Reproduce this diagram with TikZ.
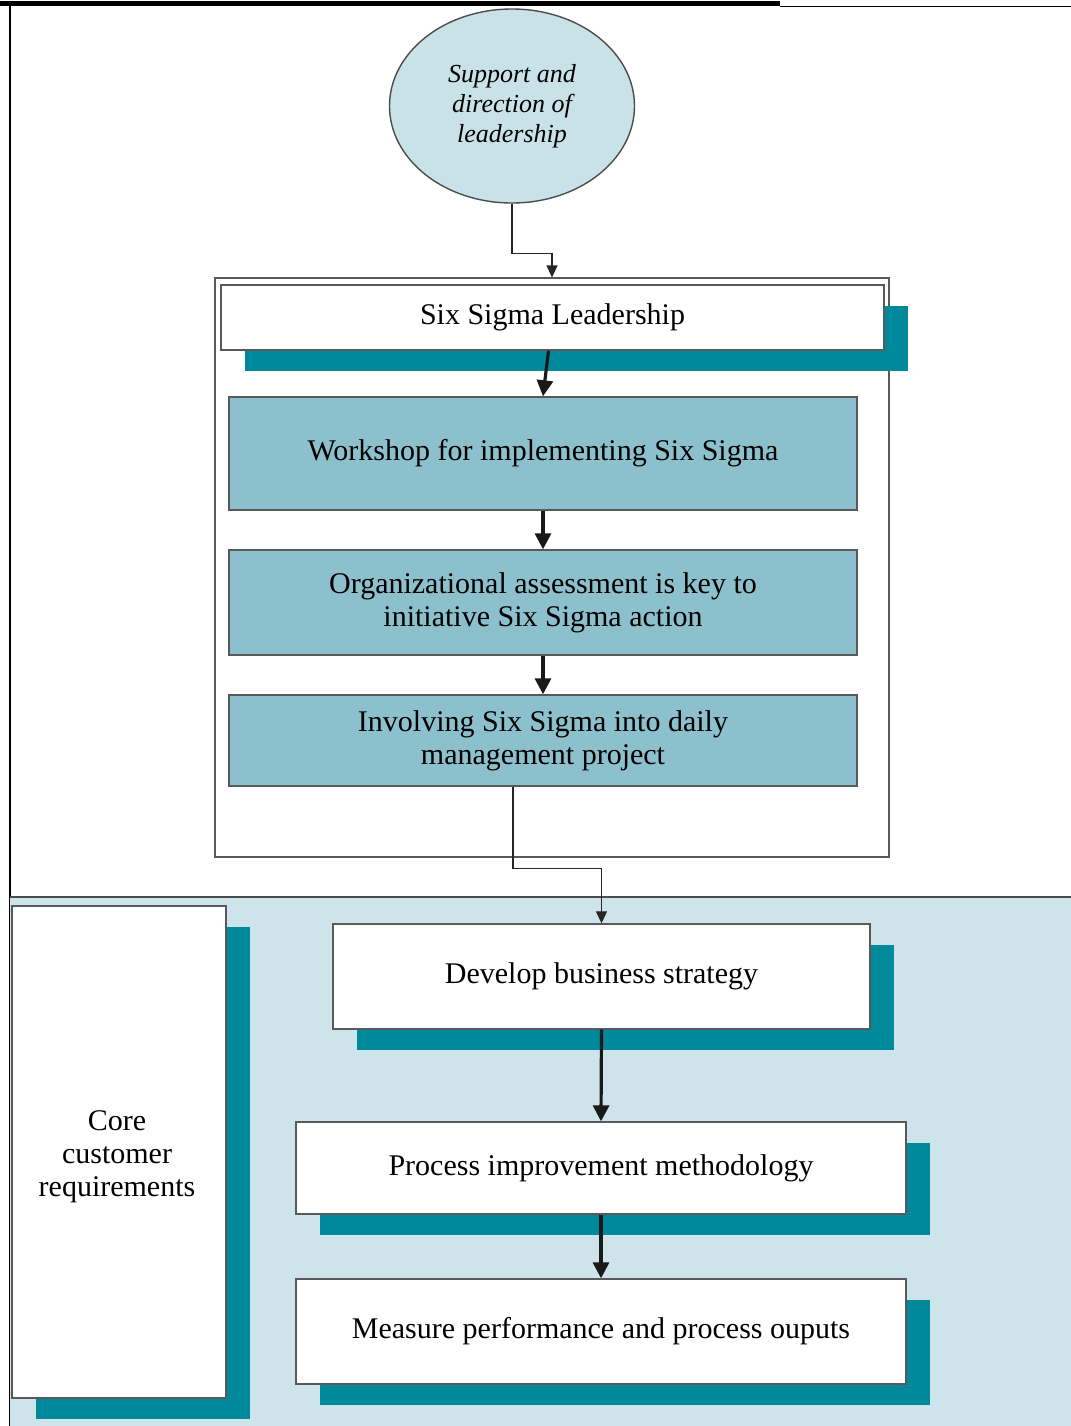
\documentclass[tikz,border=0pt]{standalone}
\usepackage{fontspec}
\setmainfont{Liberation Serif}
\usetikzlibrary{shapes.geometric,shadows,arrows.meta}
\definecolor{sigmateal}{RGB}{0,137,155}
\definecolor{paleblue}{RGB}{204,228,234}
\definecolor{midblue}{RGB}{140,192,204}
\definecolor{ovalblue}{RGB}{201,226,232}

\begin{document}
\begin{tikzpicture}[x=0.5pt,y=-0.5pt,
	box/.style={draw=black!65,line width=0.7pt,fill=white,inner sep=0pt,align=center,font=\fontsize{15}{16.5}\selectfont},
	tealshadow/.style={drop shadow={shadow xshift=12pt,shadow yshift=-10.5pt,fill=sigmateal,opacity=1}},
	bluebox/.style={box,fill=midblue},
	conn/.style={draw=black!85,line width=0.6pt,-{Triangle[length=6pt,width=5.5pt]}},
	bigarrow/.style={draw=black!90,line width=1.6pt,-{Triangle[length=8pt,width=8pt]}}]
	\useasboundingbox (0,0) rectangle (1071,1426);

	% page rules
	\draw[line width=2.5pt] (0,3) -- (780,3);
	\draw[line width=0.5pt] (780,6) -- (1071,6);
	\draw[line width=0.8pt] (10,6) -- (10,1426);

	% lower panel
	\fill[paleblue] (10,897) rectangle (1071,1426);
	\draw[black!70,line width=0.6pt] (10,897) -- (1071,897);

	\node[ellipse,draw=black!70,line width=0.7pt,fill=ovalblue,minimum width=122.5pt,minimum height=97pt,inner sep=0pt,align=center,font=\fontsize{13}{15}\selectfont\itshape] (support) at (512,106) {Support and\\direction of\\leadership};

	\node[draw=black!65,line width=0.6pt,minimum width=337pt,minimum height=289.5pt,inner sep=0pt] (frame) at (552,567.5) {};
	\node[box,tealshadow,minimum width=331.5pt,minimum height=32.5pt] (ssl) at (552.5,317.5) {Six Sigma Leadership};
	\node[bluebox,minimum width=314pt,minimum height=56.5pt] (workshop) at (543,453.5) {Workshop for implementing Six Sigma};
	\node[bluebox,minimum width=314pt,minimum height=52.5pt] (assess) at (543,602.5) {Organizational assessment is key to\\initiative Six Sigma action};
	\node[bluebox,minimum width=314pt,minimum height=45.5pt] (involve) at (543,740.5) {Involving Six Sigma into daily\\management project};

	\node[box,tealshadow,minimum width=107pt,minimum height=246pt] (core) at (119,1152) {};
	\node[align=center,font=\fontsize{15}{16.5}\selectfont] (coretext) at (117,1157) {Core\\customer\\requirements};
	\node[box,tealshadow,minimum width=268.5pt,minimum height=52.5pt] (develop) at (601.5,976.5) {Develop business strategy};
	\node[box,tealshadow,minimum width=305pt,minimum height=46pt] (process) at (601,1168) {Process improvement methodology};
	\node[box,tealshadow,minimum width=305pt,minimum height=52.5pt] (measure) at (601,1331.5) {Measure performance and process ouputs};

	\draw[conn] (support.south) -- ++(0,-25pt) -| (frame.north);
	\draw[conn] ([xshift=-15pt]involve.south) -- ++(0,-41pt) -| (develop.north);
	\foreach \a/\b in {workshop/assess, assess/involve, develop/process, process/measure}
		\draw[bigarrow] (\a.south) -- (\b.north);
	\draw[bigarrow] ([xshift=-2pt]ssl.south) -- (workshop.north);
\end{tikzpicture}
\end{document}
